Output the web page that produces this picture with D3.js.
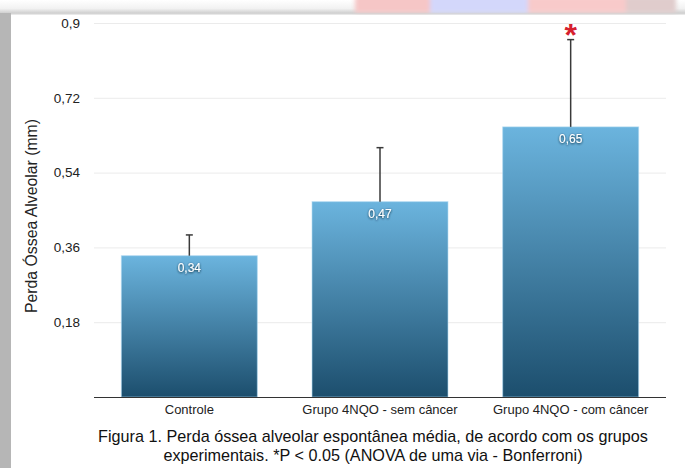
<!DOCTYPE html>
<html>
<head>
<meta charset="utf-8">
<script src="https://cdn.jsdelivr.net/npm/d3@7"></script>
<style>
  html, body { margin: 0; padding: 0; background: #fff; }
  svg { display: block; font-family: "Liberation Sans", Arial, Helvetica, sans-serif; }
</style>
</head>
<body>
<svg id="chart" width="685" height="468"></svg>
<script>
// dados
const categories = ['Controle', 'Grupo 4NQO - sem câncer', 'Grupo 4NQO - com câncer'];
const means = [0.34, 0.47, 0.65];
const errorTops = [0.39, 0.60, 0.86];
const significant = [false, false, true];
const yTicks = [0, 0.18, 0.36, 0.54, 0.72, 0.9];
const yTitle = 'Perda Óssea Alveolar (mm)';
const captionLines = [
  'Figura 1. Perda óssea alveolar espontânea média, de acordo com os grupos',
  'experimentais. *P < 0.05 (ANOVA de uma via - Bonferroni)'
];

const svg = d3.select('#chart');
const defs = svg.append('defs');

const barGrad = defs.append('linearGradient').attr('id', 'barGrad')
  .attr('x1', 0).attr('y1', 0).attr('x2', 0).attr('y2', 1);
barGrad.append('stop').attr('offset', '0%').attr('stop-color', '#6bb4de');
barGrad.append('stop').attr('offset', '100%').attr('stop-color', '#1c4e6d');

const stripGrad = defs.append('linearGradient').attr('id', 'stripGrad')
  .attr('x1', 0).attr('y1', 0).attr('x2', 0).attr('y2', 1);
stripGrad.append('stop').attr('offset', '0%').attr('stop-color', '#ffffff');
stripGrad.append('stop').attr('offset', '60%').attr('stop-color', '#f2f2f2');
stripGrad.append('stop').attr('offset', '100%').attr('stop-color', '#c8c8c8');

const shadow = defs.append('filter').attr('id', 'txtShadow')
  .attr('x', '-20%').attr('y', '-30%').attr('width', '140%').attr('height', '160%');
shadow.append('feDropShadow').attr('dx', 0).attr('dy', 0.8)
  .attr('stdDeviation', 0.8).attr('flood-color', '#0b2233').attr('flood-opacity', 1);

const blur = defs.append('filter').attr('id', 'blur');
blur.append('feGaussianBlur').attr('stdDeviation', 2);

// moldura (faixa superior e borda esquerda)
const frame = svg.append('g');
frame.append('rect').attr('x', 0).attr('y', 0).attr('width', 685).attr('height', 14)
  .attr('fill', 'url(#stripGrad)');
const blobs = frame.append('g').attr('filter', 'url(#blur)');
blobs.append('rect').attr('x', 355).attr('y', -4).attr('width', 80).attr('height', 17).attr('fill', '#f6c6c6');
blobs.append('rect').attr('x', 430).attr('y', -4).attr('width', 100).attr('height', 17).attr('fill', '#d3d7fb');
blobs.append('rect').attr('x', 528).attr('y', -4).attr('width', 100).attr('height', 17).attr('fill', '#f8caca');
blobs.append('rect').attr('x', 626).attr('y', -4).attr('width', 50).attr('height', 17).attr('fill', '#e0cccc');
frame.append('rect').attr('x', 0).attr('y', 13).attr('width', 685).attr('height', 2)
  .attr('fill', '#d9d9d9').attr('opacity', 0.6);
frame.append('rect').attr('x', 0).attr('y', 13).attr('width', 11).attr('height', 455)
  .attr('fill', '#b6b6b6');

// escalas
const x = d3.scaleBand()
  .domain(categories)
  .range([94, 666])
  .paddingInner(0.287)
  .paddingOuter(0.1435);

const y = d3.scaleLinear()
  .domain([0, 0.9])
  .range([397, 23]);

const fmt = d => String(d).replace('.', ',');

// grade
svg.append('g').selectAll('line')
  .data(yTicks.filter(d => d > 0))
  .enter().append('line')
  .attr('x1', 94).attr('x2', 666)
  .attr('y1', d => y(d) + 0.5).attr('y2', d => y(d) + 0.5)
  .attr('stroke', '#ebebeb').attr('stroke-width', 1);

// eixo Y
const yAxis = svg.append('g')
  .attr('transform', 'translate(94,0)')
  .call(d3.axisLeft(y).tickValues(yTicks.filter(d => d > 0)).tickFormat(fmt).tickSize(0).tickPadding(14));
yAxis.select('.domain').remove();
yAxis.selectAll('text')
  .attr('font-size', 13.5)
  .attr('fill', '#222')
  .attr('font-family', '"Liberation Sans", Arial, sans-serif');

svg.append('text')
  .attr('transform', `translate(37,${(23 + 397) / 2 + 6}) rotate(-90)`)
  .attr('text-anchor', 'middle')
  .attr('font-size', 15.8)
  .attr('fill', '#222')
  .text(yTitle);

// barras
const bars = svg.append('g');
bars.selectAll('rect')
  .data(means)
  .enter().append('rect')
  .attr('x', (d, i) => x(categories[i]))
  .attr('width', x.bandwidth())
  .attr('y', d => y(d))
  .attr('height', d => y(0) - y(d))
  .attr('fill', 'url(#barGrad)')
  .attr('stroke', '#a9d6f0')
  .attr('stroke-opacity', 0.6)
  .attr('stroke-width', 1);

// linha de base
svg.append('line')
  .attr('x1', 94).attr('x2', 666)
  .attr('y1', y(0) + 0.5).attr('y2', y(0) + 0.5)
  .attr('stroke', '#333').attr('stroke-width', 1.2);

// barras de erro
const err = svg.append('g').attr('stroke', '#3a3a3a').attr('stroke-width', 1.5);
err.selectAll('.err-v')
  .data(means)
  .enter().append('line')
  .attr('class', 'err-v')
  .attr('x1', (d, i) => x(categories[i]) + x.bandwidth() / 2)
  .attr('x2', (d, i) => x(categories[i]) + x.bandwidth() / 2)
  .attr('y1', d => y(d))
  .attr('y2', (d, i) => y(errorTops[i]));
err.selectAll('.err-cap')
  .data(errorTops)
  .enter().append('line')
  .attr('class', 'err-cap')
  .attr('x1', (d, i) => x(categories[i]) + x.bandwidth() / 2 - 3.5)
  .attr('x2', (d, i) => x(categories[i]) + x.bandwidth() / 2 + 3.5)
  .attr('y1', d => y(d))
  .attr('y2', d => y(d));

// rótulos de valor
svg.append('g').selectAll('text')
  .data(means)
  .enter().append('text')
  .attr('x', (d, i) => x(categories[i]) + x.bandwidth() / 2)
  .attr('y', d => y(d) + 16)
  .attr('text-anchor', 'middle')
  .attr('font-size', 12)
  .attr('fill', '#fff')
  .attr('filter', 'url(#txtShadow)')
  .text(fmt);

// asterisco de significância
svg.append('g').selectAll('text')
  .data(categories.filter((c, i) => significant[i]))
  .enter().append('text')
  .attr('x', c => x(c) + x.bandwidth() / 2)
  .attr('y', c => y(errorTops[categories.indexOf(c)]) + 6)
  .attr('text-anchor', 'middle')
  .attr('font-size', 32)
  .attr('font-weight', 'bold')
  .attr('fill', '#d6202e')
  .text('*');

// eixo X
svg.append('g').selectAll('text')
  .data(categories)
  .enter().append('text')
  .attr('x', c => x(c) + x.bandwidth() / 2)
  .attr('y', 414)
  .attr('text-anchor', 'middle')
  .attr('font-size', 13)
  .attr('fill', '#222')
  .text(c => c);

// legenda da figura
svg.append('g').selectAll('text')
  .data(captionLines)
  .enter().append('text')
  .attr('x', 373)
  .attr('y', (d, i) => 442 + i * 18.5)
  .attr('text-anchor', 'middle')
  .attr('font-size', 16.2)
  .attr('fill', '#111')
  .text(d => d);
</script>
</body>
</html>
